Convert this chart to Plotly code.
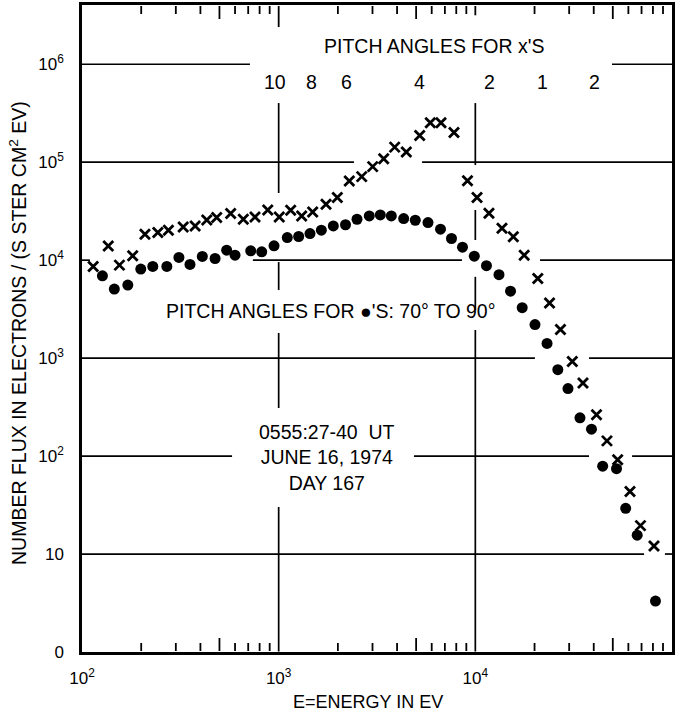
import math
import plotly.graph_objects as go

# ---------------- data ----------------
# "x" markers: energy (eV) and number flux
x_energy = [114, 136, 155, 181, 209, 243, 275, 327, 376, 431, 484, 570, 661, 758, 880,
            1007, 1151, 1309, 1489, 1741, 1987, 2286, 2644, 3007, 3420, 3890, 4457, 5213,
            5902, 6689, 7789, 9123, 10200, 11730, 13660, 15600, 17720, 20780, 23840, 27100,
            31120, 35270, 41320, 46700, 52930, 61150, 69150, 80990]
x_flux = [8630, 13990, 8900, 11070, 18410, 19150, 20220, 21840, 22370, 25760, 27230, 29910,
          26170, 27620, 32570, 27620, 32340, 28270, 31050, 37220, 43550, 64290, 71270, 90160,
          108700, 142600, 126900, 187700, 253000, 253000, 201400, 64590, 43550, 30130, 21190,
          17370, 11250, 6510, 3650, 1960, 925, 556, 264, 143, 91.8, 43.6, 19.5, 12.1]

# filled-dot markers (pitch angles 70-90 deg)
dot_energy = [127, 146, 171, 199, 229, 270, 311, 354, 409, 475, 544, 600, 721, 820, 947,
              1106, 1264, 1443, 1648, 1896, 2187, 2502, 2889, 3287, 3739, 4322, 4951, 5745,
              6651, 7565, 8603, 9879, 11390, 13190, 15100, 17310, 20110, 23150, 26270, 29590,
              34050, 38960, 44410, 52220, 58150, 66530, 82410]
dot_flux = [6920, 5070, 5570, 8110, 8630, 8630, 10660, 9040, 10910, 10400, 12650, 11250,
            12450, 12160, 14000, 17020, 17450, 18710, 20220, 22370, 23000, 26170, 28270, 28970,
            28270, 26610, 25570, 24220, 20700, 16650, 13570, 10990, 8790, 7120, 4830, 3270,
            2200, 1412, 763, 489, 246, 188, 78.9, 74.3, 29.3, 15.6, 3.31]

# pitch-angle labels for the x's and the energies they sit over
pitch_labels = ["10", "8", "6", "4", "2", "1", "2"]
pitch_energy = [953, 1476, 2223, 5176, 11800, 21830, 40360]

x_tickvals = [1e2, 1e3, 1e4, 1e5]
x_ticktext = ["10<sup>2</sup>", "10<sup>3</sup>", "10<sup>4</sup>", "10<sup>5</sup>"]
y_tickvals = [1, 10, 1e2, 1e3, 1e4, 1e5, 1e6]
y_ticktext = ["0", "10", "10<sup>2</sup>", "10<sup>3</sup>", "10<sup>4</sup>",
              "10<sup>5</sup>", "10<sup>6</sup>"]

# ---------------- styling ----------------
FONT = "Liberation Sans, Arial, sans-serif"
INK = "black"
YTOP = 6.605        # log10 of top of the y range
PX_PER_DEC = 97.96  # vertical px per decade

minor_vals = [m * 10 ** n for n in (2, 3, 4) for m in range(2, 10)]

fig = go.Figure()

# tick marks on bottom / top frame (longer at 5 x 10^n), drawn as one line path
tick_x, tick_y = [], []
for v in minor_vals:
    ln = 14.0 if str(v).startswith("5") else 9.0
    d = ln / PX_PER_DEC
    tick_x += [v, v, None, v, v, None]
    tick_y += [10 ** 0.01, 10 ** d, None, 10 ** (YTOP - 0.01), 10 ** (YTOP - d), None]
# long top tick at 10^3 and short one at 10^4
for xk, ylo in ((3, 6.38), (4, 6.50)):
    tick_x += [10 ** xk, 10 ** xk, None]
    tick_y += [10 ** (YTOP - 0.01), 10 ** ylo, None]
fig.add_trace(go.Scatter(x=tick_x, y=tick_y, mode="lines", showlegend=False,
                         hoverinfo="skip", connectgaps=False,
                         line=dict(color=INK, width=1.8)))

fig.add_trace(go.Scatter(
    x=x_energy, y=x_flux, mode="markers", showlegend=False, hoverinfo="skip",
    marker=dict(symbol="x-thin", size=10, color=INK, line=dict(width=2.8, color=INK))))
fig.add_trace(go.Scatter(
    x=dot_energy, y=dot_flux, mode="markers", showlegend=False, hoverinfo="skip",
    marker=dict(symbol="circle", size=11, color=INK, line=dict(width=0))))

# broken grid lines (given in log-decade units, converted to data values)
h_segments = {
    6: [(2.0, 2.854), (4.695, 5.0)],
    5: [(2.0, 3.383), (3.729, 5.0)],
    4: [(2.0, 2.04), (2.869, 3.932), (4.329, 5.0)],
    3: [(2.0, 4.303), (4.578, 5.0)],
    2: [(2.0, 2.763), (3.688, 4.578), (4.797, 5.0)],
    1: [(2.0, 4.858), (4.964, 5.0)],
}
v_segments = {
    3: [(5.604, 4.686), (3.981, 3.695), (3.257, 2.491), (1.480, 0.005)],
    4: [(5.604, 4.971), (4.512, 4.206), (3.83, 3.49), (3.286, 0.005)],
}
shapes = []
for yk, segs in h_segments.items():
    for a, b in segs:
        shapes.append(dict(type="line", xref="x", yref="y", x0=10 ** a, x1=10 ** b,
                           y0=10 ** yk, y1=10 ** yk, line=dict(color=INK, width=1.7)))
for xk, segs in v_segments.items():
    for a, b in segs:
        shapes.append(dict(type="line", xref="x", yref="y", x0=10 ** xk, x1=10 ** xk,
                           y0=10 ** a, y1=10 ** b, line=dict(color=INK, width=1.7)))

annotations = []
TXT = dict(family=FONT, size=19.5, color=INK)
C = dict(showarrow=False, xanchor="center", yanchor="middle")
annotations.append(dict(text="PITCH ANGLES FOR x'S", xref="paper", yref="paper",
                        x=0.5958, y=0.9366, font=TXT, **C))
for lab, e in zip(pitch_labels, pitch_energy):
    annotations.append(dict(text=lab, xref="x", yref="y", x=math.log10(e), y=5.819,
                            font=TXT, **C))
annotations.append(dict(text="PITCH ANGLES FOR ●'S: 70° TO 90°", xref="paper", yref="paper",
                        x=0.422, y=0.5263, font=TXT, **C))
annotations.append(dict(text="0555:27-40  UT<br>JUNE 16, 1974<br>DAY 167", xref="paper",
                        yref="paper", x=0.4153, y=0.3006, align="center", font=TXT, **C))
annotations.append(dict(text="E=ENERGY IN EV", xref="paper", yref="paper", x=0.4847,
                        y=-0.078, font=dict(family=FONT, size=18, color=INK), **C))
annotations.append(dict(text="NUMBER FLUX IN ELECTRONS / (S STER CM<sup>2</sup> EV)",
                        xref="paper", yref="paper", x=-0.1085, y=0.493, textangle=-90,
                        font=dict(family=FONT, size=19.5, color=INK), **C))

fig.update_layout(
    template="none",
    width=684, height=712,
    margin=dict(l=82, r=12, t=5, b=60, autoexpand=False),
    paper_bgcolor="white", plot_bgcolor="white",
    font=dict(family=FONT, size=17, color=INK),
    shapes=shapes, annotations=annotations,
    xaxis=dict(type="log", range=[2, 5], showgrid=False, zeroline=False, automargin=False,
               showline=True, linecolor=INK, linewidth=2.5, mirror=True,
               tickmode="array", tickvals=x_tickvals, ticktext=x_ticktext, ticks="",
               ticklabelstandoff=9, tickfont=dict(family=FONT, size=17, color=INK)),
    yaxis=dict(type="log", range=[0, YTOP], showgrid=False, zeroline=False, automargin=False,
               showline=True, linecolor=INK, linewidth=2.5, mirror=True,
               tickmode="array", tickvals=y_tickvals, ticktext=y_ticktext, ticks="",
               ticklabelstandoff=12, tickfont=dict(family=FONT, size=17, color=INK)),
)

fig.write_html("out.html", config={"displayModeBar": False},
               post_script="document.body.style.margin='0';document.body.style.padding='0';")
